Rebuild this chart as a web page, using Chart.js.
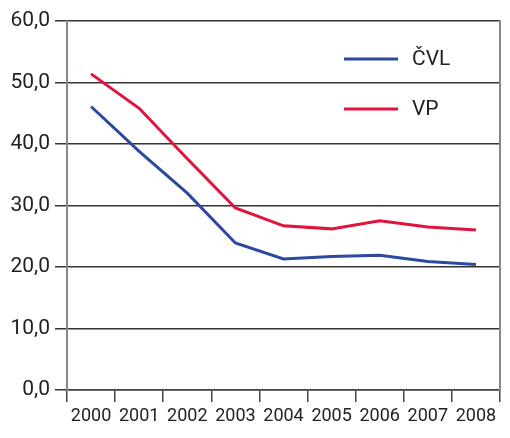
<!DOCTYPE html>
<html>
<head>
<meta charset="utf-8">
<script src="https://cdn.jsdelivr.net/npm/chart.js@4/dist/chart.umd.min.js"></script>
<style>
  html, body { margin: 0; padding: 0; background: #fff; }
  #wrap { width: 510px; height: 438px; }
</style>
</head>
<body>
<div id="wrap"><canvas id="chart" width="510" height="438"></canvas></div>
<script>
const YEARS = ['2000','2001','2002','2003','2004','2005','2006','2007','2008'];
const CVL = [46.1, 38.8, 32.0, 23.9, 21.3, 21.7, 21.9, 20.9, 20.4];
const VP  = [51.4, 45.8, 37.6, 29.6, 26.7, 26.2, 27.5, 26.5, 26.0];

const FONT = "Roboto, 'Noto Sans', sans-serif";

// legend drawn inside the plot, top right
const insideLegend = {
  id: 'insideLegend',
  afterDatasetsDraw(chart) {
    const { ctx, chartArea } = chart;
    ctx.save();
    chart.data.datasets.forEach((ds, i) => {
      const y = chartArea.top + 38 + i * 50;
      const x0 = chartArea.right - 156;
      ctx.strokeStyle = ds.borderColor;
      ctx.lineWidth = 3;
      ctx.beginPath();
      ctx.moveTo(x0, y);
      ctx.lineTo(x0 + 54, y);
      ctx.stroke();
      ctx.fillStyle = '#222';
      ctx.font = '21px ' + FONT;
      ctx.textBaseline = 'middle';
      ctx.fillText(ds.label, x0 + 68, y + 1);
    });
    ctx.restore();
  }
};

new Chart(document.getElementById('chart'), {
  type: 'line',
  data: {
    labels: YEARS,
    datasets: [
      { label: 'ČVL', data: CVL, borderColor: '#2b4a9e', borderWidth: 3, pointRadius: 0, tension: 0 },
      { label: 'VP',  data: VP,  borderColor: '#e2133c', borderWidth: 3, pointRadius: 0, tension: 0 }
    ]
  },
  options: {
    responsive: false,
    animation: false,
    layout: { padding: { top: 21, right: 10, left: 0, bottom: 0 } },
    plugins: { legend: { display: false }, tooltip: { enabled: false } },
    scales: {
      x: {
        offset: true,
        grid: { offset: true, drawOnChartArea: false, drawTicks: true, tickLength: 12, color: '#444', lineWidth: 1.5 },
        border: { display: true, color: '#444', width: 1.5 },
        ticks: { color: '#222', font: { family: FONT, size: 18 }, padding: 4, maxRotation: 0 },
        afterFit(scale) { scale.height = 48; }
      },
      y: {
        min: 0, max: 60,
        ticks: {
          stepSize: 10, color: '#222', padding: 5,
          font: { family: FONT, size: 21 },
          callback: v => v.toFixed(1).replace('.', ',')
        },
        grid: { color: '#333', lineWidth: 1.5, tickLength: 12 },
        border: { display: true, color: '#888', width: 2 },
        afterFit(scale) { scale.width = 67; }
      },
      yRight: {
        position: 'right',
        min: 0, max: 60,
        ticks: { display: false },
        grid: { drawOnChartArea: false, drawTicks: false },
        border: { display: true, color: '#888', width: 2 },
        afterFit(scale) { scale.width = 0; }
      }
    }
  },
  plugins: [insideLegend]
});
</script>
</body>
</html>
